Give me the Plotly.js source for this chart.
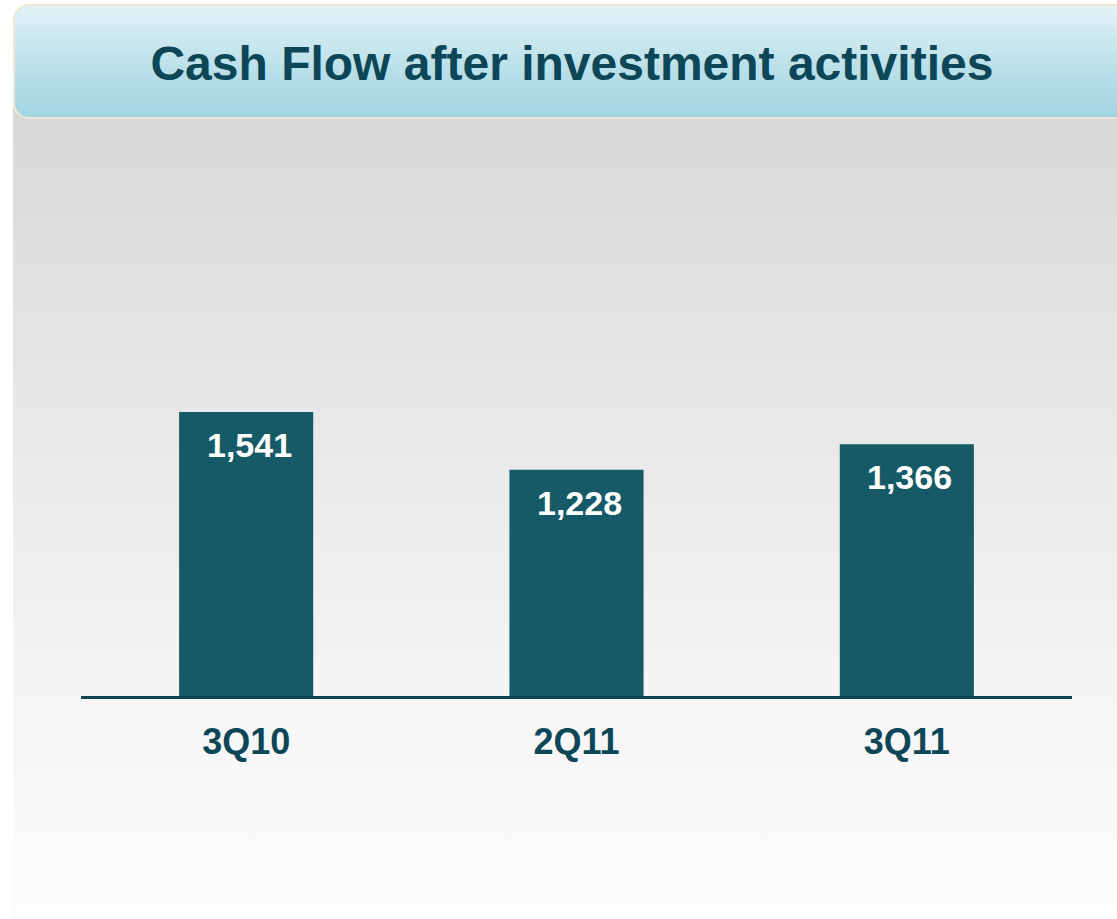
<!DOCTYPE html>
<html>
<head>
<meta charset="utf-8">
<script src="https://cdn.plot.ly/plotly-3.0.1.min.js"></script>
<style>
  html, body { margin: 0; padding: 0; background: #ffffff; width: 1117px; height: 919px; overflow: hidden; }
  #panel { position: absolute; left: 13px; top: 100px; width: 1104px; height: 819px;
           background: linear-gradient(to bottom, #d8d8d8 0%, #e6e6e6 35%, #f5f5f5 72%, #fdfdfd 100%); }
  #banner { position: absolute; left: 13px; top: 4px; width: 1130px; height: 111px; border-radius: 16px;
            border: 2px solid #eee7d5; background: linear-gradient(to bottom, #e0f1f5 0%, #bfe2eb 50%, #a2d4e1 100%); }
  #chart { position: absolute; left: 0; top: 0; width: 1117px; height: 919px; }
</style>
</head>
<body>
<div id="panel"></div>
<div id="banner"></div>
<div id="chart"></div>
<script>
const categories = ["3Q10", "2Q11", "3Q11"];
const values = [1541, 1228, 1366];
const valueLabels = ["1,541", "1,228", "1,366"];
const chartTitle = "Cash Flow after investment activities";

const barColor = "#175a67";
const darkText = "#0c4657";

const trace = {
  type: "bar",
  x: categories,
  y: values,
  marker: { color: barColor, line: { width: 0 } },
  hoverinfo: "x+y",
  width: 0.406
};

const annotations = categories.map((c, i) => ({
  x: c, y: values[i], xref: "x", yref: "y",
  text: valueLabels[i], showarrow: false,
  xanchor: "center", yanchor: "middle",
  xshift: 3, yshift: -33,
  font: { family: "Liberation Sans, Arial, sans-serif", size: 34, color: "#ffffff", weight: "bold" }
}));

const layout = {
  width: 1117, height: 919,
  margin: { l: 81, r: 45, t: 140, b: 223 },
  paper_bgcolor: "rgba(0,0,0,0)",
  plot_bgcolor: "rgba(0,0,0,0)",
  showlegend: false,
  title: {
    text: "<b>" + chartTitle + "</b>",
    x: 0.512, xref: "container", xanchor: "center",
    y: 0.9314, yref: "container", yanchor: "middle",
    font: { family: "Liberation Sans, Arial, sans-serif", size: 48, color: darkText }
  },
  xaxis: {
    type: "category",
    range: [-0.5, 2.5],
    showgrid: false, zeroline: false,
    showline: true, linecolor: "#0f4654", linewidth: 3,
    ticks: "", ticklabelstandoff: 12,
    tickfont: { family: "Liberation Sans, Arial, sans-serif", size: 36, color: darkText, weight: "bold" },
    fixedrange: true
  },
  yaxis: {
    range: [0, 3017],
    showgrid: false, zeroline: false, showline: false,
    showticklabels: false, ticks: "",
    fixedrange: true
  },
  annotations: annotations
};

Plotly.newPlot("chart", [trace], layout, { displayModeBar: false, staticPlot: true });
</script>
</body>
</html>
